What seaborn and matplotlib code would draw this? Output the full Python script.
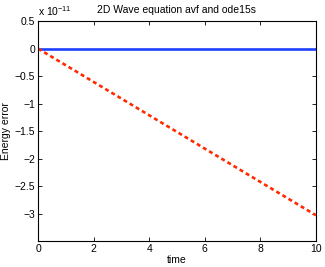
import matplotlib
matplotlib.use('Agg')
from matplotlib import pyplot as plt
from matplotlib.ticker import FuncFormatter
import seaborn as sns
import pandas as pd

time = [0, 2, 4, 6, 8, 10]
avf_error = [0, 0, 0, 0, 0, 0]
ode15s_error = [0, -0.606e-11, -1.212e-11, -1.818e-11, -2.424e-11, -3.03e-11]
y_ticks = [-3e-11, -2.5e-11, -2e-11, -1.5e-11, -1e-11, -0.5e-11, 0, 0.5e-11]

sns.set_style('ticks')
plt.rcParams['font.family'] = ['Liberation Sans', 'DejaVu Sans']
plt.rcParams['mathtext.fontset'] = 'custom'
plt.rcParams['mathtext.rm'] = 'Liberation Sans'
plt.rcParams['font.size'] = 7.5
plt.rcParams['text.color'] = 'black'
plt.rcParams['axes.labelcolor'] = 'black'
plt.rcParams['xtick.color'] = 'black'
plt.rcParams['ytick.color'] = 'black'
plt.rcParams['axes.edgecolor'] = 'black'

df_avf = pd.DataFrame({'time': time, 'err': avf_error})
df_ode = pd.DataFrame({'time': time, 'err': ode15s_error})

fig = plt.figure(figsize=(3.25, 2.67), dpi=100)
ax = fig.add_axes([0.117, 0.097, 0.855, 0.824])

sns.lineplot(data=df_avf, x='time', y='err', ax=ax, color='#1f3fff', linewidth=1.9)
sns.lineplot(data=df_ode, x='time', y='err', ax=ax, color='#ff2a00', linewidth=1.9,
             linestyle=(0, (1.5, 1.2)))

ax.set_xlim(0, 10)
ax.set_ylim(-3.5e-11, 0.5e-11)
ax.set_xticks([0, 2, 4, 6, 8, 10])
ax.set_yticks(y_ticks)
ax.yaxis.set_major_formatter(
    FuncFormatter(lambda v, p: ('%g' % round(v / 1e-11, 3)).replace('-', '\u2212')))
ax.text(0.0, 1.015, r'x 10$^{-11}$', transform=ax.transAxes, fontsize=7.5,
        ha='left', va='bottom')

ax.tick_params(direction='in', top=True, right=True, labelsize=7.5, length=3, width=0.6,
               pad=2)
for s in ax.spines.values():
    s.set_linewidth(0.8)

ax.set_xlabel('time', fontsize=7.5, labelpad=1)
ax.set_ylabel('Energy error', fontsize=7.5, labelpad=3)
ax.set_title('2D Wave equation avf and ode15s', fontsize=7.5, pad=6)

plt.savefig('out.png', dpi=100)
plt.close()
